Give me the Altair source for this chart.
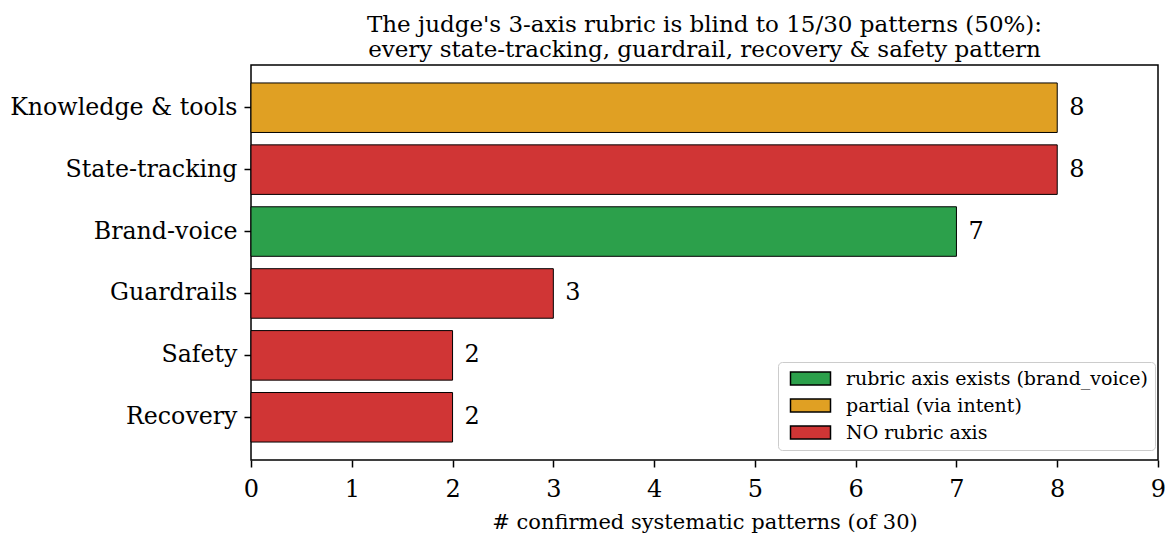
import altair as alt
import pandas as pd

categories = ["Knowledge & tools", "State-tracking", "Brand-voice", "Guardrails", "Safety", "Recovery"]
counts = [8, 8, 7, 3, 2, 2]
statuses = ["partial (via intent)", "NO rubric axis", "rubric axis exists (brand_voice)",
            "NO rubric axis", "NO rubric axis", "NO rubric axis"]
legend_order = ["rubric axis exists (brand_voice)", "partial (via intent)", "NO rubric axis"]
legend_colors = ["#2ca04b", "#e0a023", "#d03535"]
x_ticks = [0, 1, 2, 3, 4, 5, 6, 7, 8, 9]

df = pd.DataFrame({"category": categories, "count": counts, "status": statuses})

FONT = "DejaVu Serif"

y_enc = alt.Y("category:N", sort=categories, title=None,
              scale=alt.Scale(paddingInner=0.2, paddingOuter=0.29),
              axis=alt.Axis(labelFont=FONT, labelFontSize=23.7, labelColor="black",
                            tickColor="black", tickSize=7, tickWidth=1.5, labelPadding=7,
                            labelLimit=400, domain=False, grid=False))

bars = alt.Chart(df).mark_bar(stroke="black", strokeWidth=1).encode(
    x=alt.X("count:Q", title="# confirmed systematic patterns (of 30)",
            scale=alt.Scale(domain=[0, 9], nice=False),
            axis=alt.Axis(values=x_ticks, format="d", labelAlign="center",
                          labelFont=FONT, labelFontSize=24, labelColor="black",
                          titleFont=FONT, titleFontSize=21, titleFontWeight="normal",
                          titleColor="black", tickColor="black", tickSize=7, tickWidth=1.5,
                          labelPadding=10, titlePadding=10, domain=False, grid=False,
                          labelFlush=False)),
    y=y_enc,
    color=alt.Color("status:N", scale=alt.Scale(domain=legend_order, range=legend_colors),
                    legend=alt.Legend(title=None, orient="none", legendX=527, legendY=297,
                                      labelFont=FONT, labelFontSize=19, labelColor="black",
                                      symbolType="M-0.8,-1.3L7.2,-1.3L7.2,1.3L-0.8,1.3Z",
                                      symbolSize=100,
                                      symbolStrokeColor="black", symbolStrokeWidth=1.5,
                                      rowPadding=7, padding=7, strokeColor="#cccccc",
                                      fillColor="white", cornerRadius=4, labelOffset=42,
                                      labelLimit=500)),
)

labels = alt.Chart(df).mark_text(align="left", baseline="middle", dx=12, font=FONT,
                                 fontSize=24, color="black").encode(
    x="count:Q",
    y=alt.Y("category:N", sort=categories),
    text="count:Q",
)

chart = (bars + labels).properties(
    width=907, height=395,
    title=alt.TitleParams(
        ["The judge's 3-axis rubric is blind to 15/30 patterns (50%):",
         "every state-tracking, guardrail, recovery & safety pattern"],
        font=FONT, fontSize=23, fontWeight="normal", color="black",
        anchor="middle", offset=5, dy=2, lineHeight=25),
    autosize=alt.AutoSizeParams(type="none"),
    padding={"left": 243, "top": 57, "right": 8, "bottom": 78},
).configure(background="white").configure_view(stroke="black", strokeWidth=1.5)

chart.save("out.html", embed_options={"renderer": "svg", "actions": False})
